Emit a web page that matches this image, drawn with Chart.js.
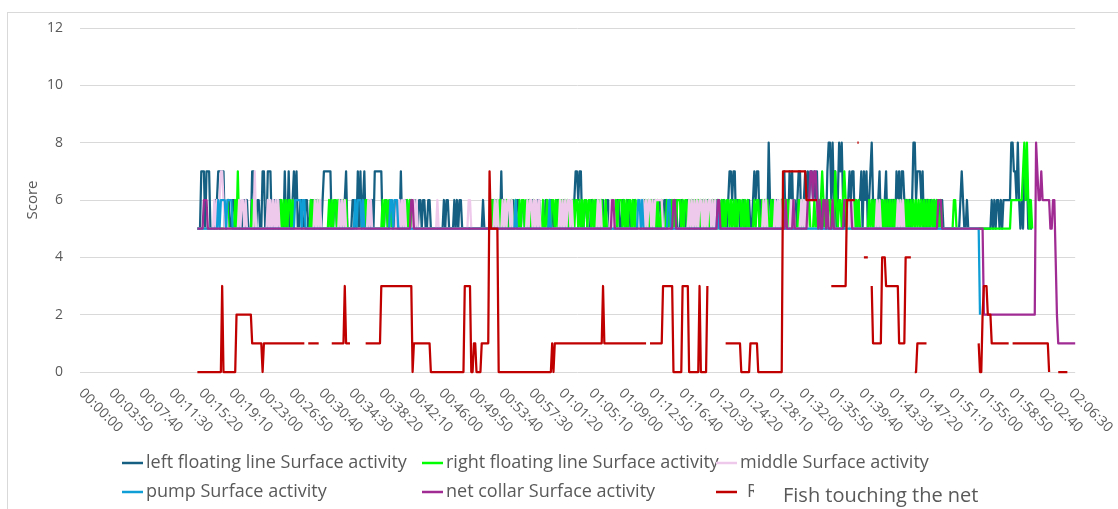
<!DOCTYPE html>
<html>
<head>
<meta charset="utf-8">
<script src="https://cdn.jsdelivr.net/npm/chart.js@4.4.0/dist/chart.umd.min.js"></script>
<style>
  html, body { margin: 0; padding: 0; background: #fff; }
  #wrap { width: 1118px; height: 509px; }
</style>
</head>
<body>
<div id="wrap"><canvas id="graficoScore" width="1118" height="509"></canvas></div>
<script>
// one character = one 10 s sample, '.' = no value
// each string = one label interval (23 samples), starting at the 00:11:30 interval
var leftFloating = [
    ".....................55",
    "57775777555566777775556", "55665566556656555775566", "55775577755665566557557", "55676755665566556655665",
    "55677777755665566556755", "55665575756756655657777", "77556655665566557556655", "56566556656655665555555",
    "55565665555656566555555", "55555555556555555665665", "57565665566556655665566", "55665566555566556655665",
    "55665566555677677556655", "56655665566556655665566", "55665566556655665566556", "65566556655665566556655",
    "56655665566556655665566", "55665566556655677677566", "55665566556767756655658", "65656665565756576756567",
    "75567676776767566565578", "86867568786565676775656", "67576756786565675656756", "56565767577656565688677",
    "76756565665656656655555", "55555555676556555555555", "55555555565656656566666", "688776865657675655.....",
    ".......................", "....."
];
var rightFloating = [
    ".....................55",
    "55555555555555555555565", "55556575555555555656555", "55555555555555556565656", "65655555555555556566565",
    "55555556565665655665655", "55555555556566555555555", "55656656655555555555565", "65665555555555555555555",
    "55555555555555555555555", "55555555555555555656565", "65655655565565565665665", "65565555556556565665656",
    "56656565556566565656656", "65656566565565555655656", "66565656656565655565656", "56556565565556565656566",
    "65656656565665656565656", "55656656565656656565656", "65656565555656655656565", "56565555565656566565556",
    "65565556555655656765656", "65657656656765656565656", "55555556565656565656565", "65656565656565656565656",
    "56565656565656556555555", "55566555555555555555555", "55555555555555555555555", "566666666678686565.....",
    ".......................", "....."
];
var middle = [
    ".....................55",
    "55555555555656567765655", "55555556566565555557555", "55555565656565655555555", "55555555555555555556565",
    "65555555555555565656555", "55555555555555656555555", "55555555555556565656555", "55565655555555555555565",
    "55555555555555555555556", "65555555555555555556565", "55656566565555555555565", "66565656555555555555555",
    "65656566565555555555555", "55555565655555556565555", "55555555555555656565656", "65656666665555555555555",
    "55555556565656566565656", "65656565555555555555555", "55555555555555555565655", "55556565655555556565555",
    "56565655555555555555555", "55555555555555565655555", "55555555555556565555555", "55555565656555555555555",
    "55555555555555555555555", "55555555555555555555555", ".......................", ".......................",
    ".......................", "....."
];
var pump = [
    ".....................55",
    "55555555555555656666566", "66555555555555555555555", "55555555555555555555555", "55556666656655555555555",
    "55555555555555555555555", "55556566656555555555555", "55555555665666555555555", "55555555555555555555555",
    "55555555555555555555555", "55555555555555555555555", "55555555555565555555555", "55555555555555565555555",
    "55555555555555555555555", "55555555555555555555555", "55555555555555665655555", "55555555555555665555555",
    "55555555555555555555555", "55555565555555555555555", "55555555555555555555555", "55555555555555555555555",
    "55555555555555555555555", "55555555555555555555555", "55555555555555555555555", "55555555555555555555555",
    "55555555555555555555555", "55555555555555555555555", "2......................", ".......................",
    ".......................", "....."
];
var netCollar = [
    ".....................55",
    "55566655555555555555555", "55555555555555555555555", "55555555555555555555555", "55555555555555555555555",
    "55555555555555555555555", "55555555555555555555555", "55555555555555555555555", "56655555555555555555555",
    "55555555555555555555555", "55555555555555555555555", "55555555555555555555555", "55555555555555555555555",
    "55555555555555555555555", "55555555555555555665555", "55555555555555555555555", "55555555555555555566555",
    "55555555555555555555555", "55555566555555555555555", "55555555555555555555555", "55555555555565555565555",
    "55555566776776565566565", "55655555555666666555555", "55555555555555555555555", "55555555555555555555555",
    "55555555555555666555555", "55555555555555555555555", "55522222222222222222222", "22222222222222222222876",
    "67666666556642111111111", "11111"
];
var seriesR = [
    ".....................00",
    "00000000000000000300000", "00000222222222222111111", "11011111111111111111111", "111111111111..111111111",
    ".........11111111113111", "1...........11111111111", "13333333333333333333333", "33011111111111110000000",
    "00000000000000000003333", "30011000011111175555550", "00000000000000000000000", "00000000000000000101111",
    "11111111111111111111111", "11111111113111111111111", "111111111111111111111..", "11111111113333333300000",
    "0033333000000003000003.", "............11111111111", "10000000111111000000000", "00000000007777777777777",
    "77777666666666.........", ".3333333333336666666.88", "...4444..31111111444333", "33333331111144444..0011",
    "111111.................", "......................1", "00233322211111111111111", "..111111111111111111111",
    "11111110......00000000.", "....."
];

var tickLabels = [
    "00:00:00", "00:03:50", "00:07:40", "00:11:30", "00:15:20", "00:19:10", "00:23:00", "00:26:50",
    "00:30:40", "00:34:30", "00:38:20", "00:42:10", "00:46:00", "00:49:50", "00:53:40", "00:57:30",
    "01:01:20", "01:05:10", "01:09:00", "01:12:50", "01:16:40", "01:20:30", "01:24:20", "01:28:10",
    "01:32:00", "01:35:50", "01:39:40", "01:43:30", "01:47:20", "01:51:10", "01:55:00", "01:58:50",
    "02:02:40", "02:06:30"
];
var seriesNames = [
    "left floating line Surface activity", "right floating line Surface activity", "middle Surface activity",
    "pump Surface activity", "net collar Surface activity", "R"
];
var seriesColors = ["#156082", "#00ff00", "#efc9ec", "#0f9ed5", "#a02b93", "#c00000"];

var SAMPLE_SECONDS = 10;
var LABEL_EVERY = 23;
var FIRST_CHUNK = 3;
var SAMPLE_COUNT = 764;

function expand(chunks) {
    var s = '';
    for (var c = 0; c < FIRST_CHUNK * LABEL_EVERY; c++) s += '.';
    s += chunks.join('');
    return s.split('').slice(0, SAMPLE_COUNT).map(function (ch) {
        return ch === '.' ? null : Number(ch);
    });
}

function hms(sec) {
    var h = Math.floor(sec / 3600), m = Math.floor(sec / 60) % 60, s = sec % 60;
    return [h, m, s].map(function (v) { return (v < 10 ? '0' : '') + v; }).join(':');
}

var categories = [];
for (var i = 0; i < SAMPLE_COUNT; i++) categories.push(hms(i * SAMPLE_SECONDS));

var allSeries = [leftFloating, rightFloating, middle, pump, netCollar, seriesR];
var FONT = '"Open Sans", "Noto Sans", sans-serif';
var TXT = '#595959';

// grey chart frame
var frame = {
    id: 'frame',
    beforeDraw: function (chart) {
        var ctx = chart.ctx;
        ctx.save();
        ctx.fillStyle = '#fff';
        ctx.fillRect(0, 0, chart.width, chart.height);
        ctx.strokeStyle = '#d9d9d9';
        ctx.lineWidth = 1;
        ctx.strokeRect(7.5, 12.5, chart.width + 20, chart.height + 20);
        ctx.restore();
    }
};

// time labels turned 45 deg downwards, starting at the tick
var timeLabels = {
    id: 'timeLabels',
    afterDraw: function (chart) {
        var ctx = chart.ctx, x = chart.scales.x;
        ctx.save();
        ctx.font = '14px ' + FONT;
        ctx.fillStyle = TXT;
        ctx.textAlign = 'left';
        ctx.textBaseline = 'middle';
        tickLabels.forEach(function (t, k) {
            var px = x.getPixelForValue(k * LABEL_EVERY);
            ctx.save();
            ctx.translate(px + 1, chart.chartArea.bottom + 19);
            ctx.rotate(Math.PI / 4);
            ctx.fillText(t, 0, 0);
            ctx.restore();
        });
        ctx.restore();
    }
};

// legend in three columns, plus the text box that covers the last entry
var legendBox = {
    id: 'legendBox',
    afterDraw: function (chart) {
        var ctx = chart.ctx;
        var spots = [[122, 463], [422, 463], [716, 463], [122, 492], [422, 492], [716, 492]];
        ctx.save();
        ctx.font = '18px ' + FONT;
        ctx.textBaseline = 'middle';
        ctx.textAlign = 'left';
        spots.forEach(function (p, n) {
            ctx.strokeStyle = seriesColors[n];
            ctx.lineWidth = 2.5;
            ctx.beginPath();
            ctx.moveTo(p[0], p[1]);
            ctx.lineTo(p[0] + 21, p[1]);
            ctx.stroke();
            ctx.fillStyle = TXT;
            ctx.fillText(seriesNames[n], n === 5 ? 747 : p[0] + 24, p[1]);
        });
        ctx.fillStyle = '#fff';
        ctx.fillRect(754, 478, 250, 40);
        ctx.fillStyle = TXT;
        ctx.font = '20px ' + FONT;
        ctx.textBaseline = 'alphabetic';
        ctx.fillText('Fish touching the net', 783, 502);
        ctx.restore();
    }
};

var ctx = document.getElementById('graficoScore').getContext('2d');
var chart = new Chart(ctx, {
    type: 'line',
    data: {
        labels: categories,
        datasets: allSeries.map(function (chunks, n) {
            return {
                label: seriesNames[n],
                data: expand(chunks),
                borderColor: seriesColors[n],
                backgroundColor: seriesColors[n],
                order: allSeries.length - n,
                spanGaps: false,
                clip: false
            };
        })
    },
    options: {
        responsive: false,
        animation: false,
        events: [],
        layout: { padding: { left: 8, top: 28, right: 42.8, bottom: 0 } },
        elements: {
            point: { radius: 0 },
            line: { borderWidth: 2.25, tension: 0, borderJoinStyle: 'round' }
        },
        plugins: {
            legend: { display: false },
            tooltip: { enabled: false }
        },
        scales: {
            x: {
                ticks: { display: false },
                grid: { display: false },
                border: { display: false },
                afterFit: function (s) { s.height = 137; }
            },
            y: {
                min: 0,
                max: 12,
                ticks: { stepSize: 2, padding: 17, color: TXT, font: { family: FONT, size: 14 } },
                grid: { color: '#d9d9d9', drawTicks: false },
                border: { display: false },
                title: { display: true, text: 'Score', color: TXT, font: { family: FONT, size: 15 }, padding: { top: 16, bottom: 0 } },
                afterFit: function (s) { s.width = 72; }
            }
        }
    },
    plugins: [frame, timeLabels, legendBox]
});
</script>
</body>
</html>
